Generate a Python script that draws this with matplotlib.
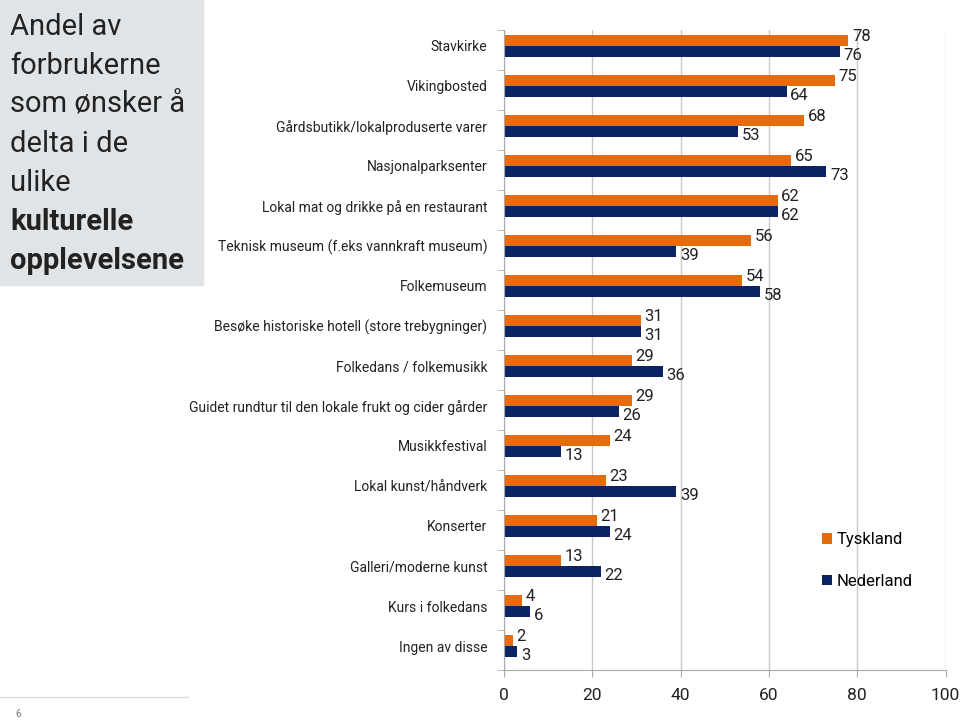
import numpy as np
import matplotlib.pyplot as plt
from matplotlib.patches import Rectangle

categories = ["Stavkirke", "Vikingbosted", "Gårdsbutikk/lokalproduserte varer",
              "Nasjonalparksenter", "Lokal mat og drikke på en restaurant",
              "Teknisk museum (f.eks vannkraft museum)", "Folkemuseum",
              "Besøke historiske hotell (store trebygninger)", "Folkedans / folkemusikk",
              "Guidet rundtur til den lokale frukt og cider gårder", "Musikkfestival",
              "Lokal kunst/håndverk", "Konserter", "Galleri/moderne kunst",
              "Kurs i folkedans", "Ingen av disse"]
tyskland = [78, 75, 68, 65, 62, 56, 54, 31, 29, 29, 24, 23, 21, 13, 4, 2]
nederland = [76, 64, 53, 73, 62, 39, 58, 31, 36, 26, 13, 39, 24, 22, 6, 3]
series_names = ["Tyskland", "Nederland"]

orange = "#E46C0A"
navy = "#0B2362"

plt.rcParams['font.family'] = ['Roboto', 'DejaVu Sans']
fig = plt.figure(figsize=(9.6, 7.21), dpi=100)
ax = fig.add_axes([0.525, 0.0707, 0.46, 0.888])

y = np.arange(len(categories))
h = 0.28
off = 0.1
ax.barh(y - off - h / 2, tyskland, height=h, color=orange, label=series_names[0])
ax.barh(y - off + h / 2, nederland, height=h, color=navy, label=series_names[1])

for i in range(len(categories)):
    ax.text(tyskland[i] + 0.8, y[i] - off - h / 2 - 0.1, str(tyskland[i]),
            va='center', ha='left', fontsize=12, color='#222222')
    ax.text(nederland[i] + 0.8, y[i] - off + h / 2 + 0.1, str(nederland[i]),
            va='center', ha='left', fontsize=12, color='#222222')

ax.set_xlim(0, 100)
ax.set_ylim(len(categories) - 0.5, -0.5)
ax.set_xticks([0, 20, 40, 60, 80, 100])
ax.tick_params(axis='x', labelsize=12.5, length=5, color='#aaaaaa', labelcolor='#222222', pad=8)
ax.set_yticks(y - 0.1)
ax.set_yticklabels(categories, fontsize=10, color='#222222')
ax.set_yticks(np.arange(-0.5, len(categories), 1), minor=True)
ax.tick_params(axis='y', which='major', length=0, pad=12)
ax.tick_params(axis='y', which='minor', length=5, color='#aaaaaa')
ax.grid(axis='x', color='#c8c8c8', linewidth=1)
ax.set_axisbelow(True)
for s in ['top', 'right']:
    ax.spines[s].set_visible(False)
ax.spines['left'].set_color('#aaaaaa')
ax.spines['bottom'].set_color('#aaaaaa')

ax.legend(loc='upper left', bbox_to_anchor=(0.72, 0.215), frameon=False,
          borderaxespad=0, borderpad=0,
          fontsize=12, handlelength=0.6, handleheight=0.6, labelspacing=1.6,
          handletextpad=0.3)

# grå tittelboks
fig.patches.append(Rectangle((0, 1 - 285 / 721), 203 / 960, 285 / 721,
                             transform=fig.transFigure, color='#e1e4e6', zorder=-5))
title_lines = ["Andel av", "forbrukerne", "som ønsker å", "delta i de", "ulike",
               "kulturelle", "opplevelsene"]
for k, line in enumerate(title_lines):
    fig.text(10 / 960, 1 - (27 + 39 * k) / 721, line, fontsize=21,
             fontweight='bold' if k >= 5 else 'normal',
             va='center', ha='left', color='#222222')

fig.add_artist(plt.Line2D([0, 188 / 960], [1 - 697 / 721] * 2,
                          transform=fig.transFigure, color='#dddddd', linewidth=1))
fig.text(18 / 960, 1 - 714 / 721, "6", fontsize=7, color='#777777', ha='center', va='center')

plt.savefig("out.png", dpi=100)
